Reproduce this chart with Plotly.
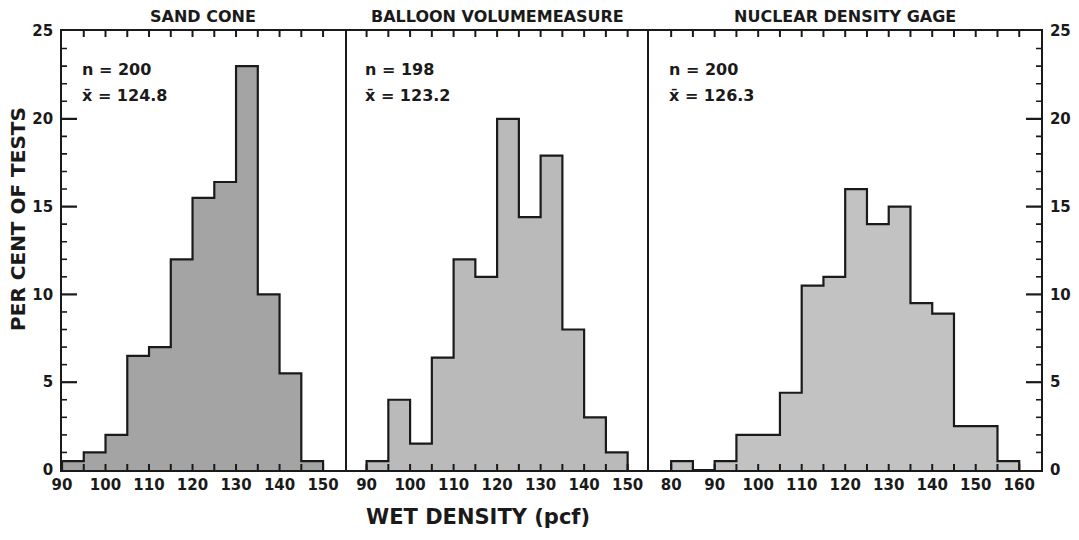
import plotly.graph_objects as go
from plotly.subplots import make_subplots

# Histogram data: per cent of tests in 5-pcf bins (bin lower edges)
panel_titles = ["SAND CONE", "BALLOON VOLUMEMEASURE", "NUCLEAR DENSITY GAGE"]
n_tests = [200, 198, 200]
mean_density = [124.8, 123.2, 126.3]

sand_edges = [90, 95, 100, 105, 110, 115, 120, 125, 130, 135, 140, 145]
sand_pct = [0.5, 1.0, 2.0, 6.5, 7.0, 12.0, 15.5, 16.4, 23.0, 10.0, 5.5, 0.5]

balloon_edges = [90, 95, 100, 105, 110, 115, 120, 125, 130, 135, 140, 145]
balloon_pct = [0.5, 4.0, 1.5, 6.4, 12.0, 11.0, 20.0, 14.4, 17.9, 8.0, 3.0, 1.0]

nuclear_edges = [80, 85, 90, 95, 100, 105, 110, 115, 120, 125, 130, 135, 140, 145, 150, 155]
nuclear_pct = [0.5, 0.0, 0.5, 2.0, 2.0, 4.4, 10.5, 11.0, 16.0, 14.0, 15.0, 9.5, 8.9, 2.5, 2.5, 0.5]

# labelled x ticks per panel and the y tick labels
sand_xlabels = [90, 100, 110, 120, 130, 140, 150]
balloon_xlabels = [90, 100, 110, 120, 130, 140, 150]
nuclear_xlabels = [80, 90, 100, 110, 120, 130, 140, 150, 160]
y_ticks = [0, 5, 10, 15, 20, 25]

bin_width = 5
x_ranges = [[90, 155], [85, 155], [75, 165]]
y_range = [0, 25]

series = [(sand_edges, sand_pct), (balloon_edges, balloon_pct), (nuclear_edges, nuclear_pct)]
xlabels = [sand_xlabels, balloon_xlabels, nuclear_xlabels]
fills = ["#a4a4a4", "#bababa", "#c2c2c2"]

ink = "#1a1a1a"
FONT = "DejaVu Sans"

# panel widths proportional to their x spans
spans = [r[1] - r[0] for r in x_ranges]
fig = make_subplots(rows=1, cols=3, column_widths=spans, horizontal_spacing=0.0)

tick_shapes = []


def tick(xref, yref, x, y, dx=0, dy=0, width=2.0):
    """Short inward tick of fixed pixel length anchored at a data point."""
    if dy:
        return dict(type="line", xref=xref, yref=yref, x0=x, x1=x,
                    ysizemode="pixel", yanchor=y, y0=0, y1=dy,
                    line=dict(color=ink, width=width), layer="above")
    return dict(type="line", xref=xref, yref=yref, y0=y, y1=y,
                xsizemode="pixel", xanchor=x, x0=0, x1=dx,
                line=dict(color=ink, width=width), layer="above")


for i, (edges, pct) in enumerate(series):
    col = i + 1
    xname = "x" if col == 1 else f"x{col}"
    yname = "y" if col == 1 else f"y{col}"
    centers = [e + bin_width / 2 for e in edges]
    fig.add_trace(go.Bar(x=centers, y=pct, width=bin_width,
                         marker=dict(color=fills[i], line=dict(width=0)),
                         showlegend=False, hoverinfo="skip"), row=1, col=col)
    # stepped outline around the histogram
    sx = [edges[0], edges[0]] + edges[1:] + [edges[-1] + bin_width]
    sy = [0] + pct + [0]
    fig.add_trace(go.Scatter(x=sx, y=sy, mode="lines", line_shape="hv",
                             line=dict(color=ink, width=2.2),
                             showlegend=False, hoverinfo="skip"), row=1, col=col)

    lo, hi = x_ranges[i]
    fig.update_xaxes(row=1, col=col, range=x_ranges[i], tickvals=xlabels[i],
                     ticktext=[str(v) for v in xlabels[i]], tickangle=0, ticks="",
                     showline=True, linecolor=ink, linewidth=1.8, mirror=True,
                     showgrid=False, zeroline=False, automargin=False,
                     tickfont=dict(family=FONT, size=15, color=ink, weight="bold"))

    yopts = dict(range=y_range, showgrid=False, zeroline=False, automargin=False,
                 linecolor=ink, linewidth=1.8, ticks="",
                 tickfont=dict(family=FONT, size=15, color=ink, weight="bold"))
    if i == 0:
        yopts.update(showline=True, mirror=True, tickvals=y_ticks, ticklabelstandoff=4)
    elif i == 2:
        yopts.update(side="right", showline=True, mirror=True, tickvals=y_ticks,
                     ticklabelstandoff=4)
    else:
        yopts.update(showline=False, showticklabels=False)
    fig.update_yaxes(row=1, col=col, **yopts)

    # inward ticks every 5 pcf along the bottom and top edges
    for v in range(lo + (-lo) % 5, hi + 1, 5):
        if lo < v < hi:
            tick_shapes.append(tick(xname, yname, v, y_range[0], dy=6))
            tick_shapes.append(tick(xname, yname, v, y_range[1], dy=-6))

    # ticks on the outer vertical axes: long at labelled values, short every unit
    if i in (0, 2):
        edge_x = lo if i == 0 else hi
        sign = 1 if i == 0 else -1
        for v in range(y_range[0] + 1, y_range[1]):
            if v in y_ticks:
                tick_shapes.append(tick(xname, yname, edge_x, v, dx=sign * 15, width=2.2))
            else:
                tick_shapes.append(tick(xname, yname, edge_x, v, dx=sign * 5, width=1.6))

    # sample size and mean inside each panel
    text_x = lo + 5
    fig.add_annotation(x=text_x, y=22.8, xref=xname, yref=yname, xanchor="left",
                       yanchor="middle", xshift=-4, showarrow=False,
                       text=f"n = {n_tests[i]}",
                       font=dict(family=FONT, size=16, color=ink, weight="bold"))
    fig.add_annotation(x=text_x, y=21.3, xref=xname, yref=yname, xanchor="left",
                       yanchor="middle", xshift=-4, showarrow=False,
                       text=f"x\u0304 = {mean_density[i]}",
                       font=dict(family=FONT, size=16, color=ink, weight="bold"))
    # panel heading
    fig.add_annotation(x=0.5, y=1, xref=f"{xname} domain", yref="paper",
                       xanchor="center", yanchor="bottom", yshift=3, showarrow=False,
                       text=panel_titles[i],
                       font=dict(family=FONT, size=16, color=ink, weight="bold"))

fig.add_annotation(x=-0.0445, y=0.573, xref="paper", yref="paper", textangle=-90,
                   xanchor="center", yanchor="middle", showarrow=False,
                   text="PER CENT OF TESTS",
                   font=dict(family=FONT, size=20, color=ink, weight="bold"))
fig.add_annotation(x=0.425, y=-0.107, xref="paper", yref="paper",
                   xanchor="center", yanchor="middle", showarrow=False,
                   text="WET DENSITY (pcf)",
                   font=dict(family=FONT, size=21, color=ink, weight="bold"))

fig.update_layout(width=1079, height=540, autosize=False,
                  margin=dict(l=62, r=38, t=31, b=70),
                  paper_bgcolor="white", plot_bgcolor="white",
                  bargap=0, showlegend=False, shapes=tick_shapes)

fig.write_html("out.html")
